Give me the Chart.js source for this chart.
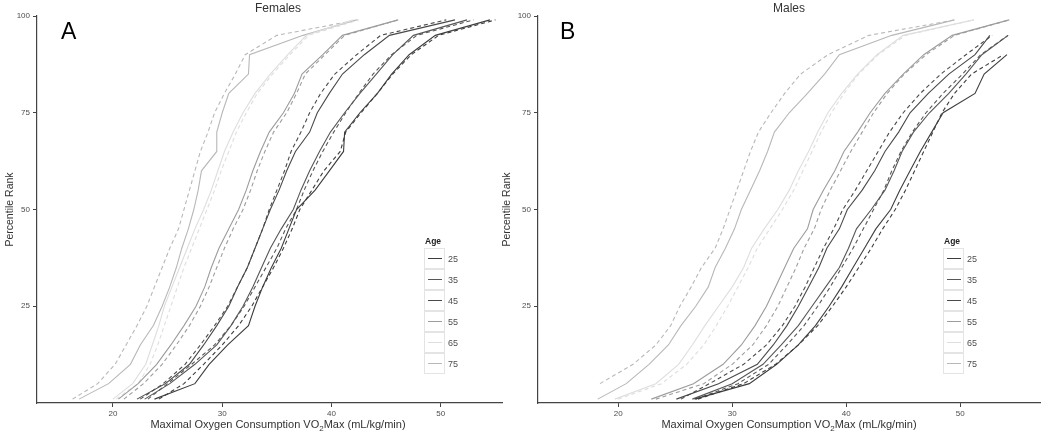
<!DOCTYPE html>
<html>
<head>
<meta charset="utf-8">
<script src="https://cdn.jsdelivr.net/npm/chart.js"></script>
<style>
  html, body { margin: 0; padding: 0; background: #fff; }
  #wrap { position: relative; width: 1050px; height: 436px; overflow: hidden; background: #fff;
          font-family: "Liberation Sans", Arial, sans-serif; }
  canvas { position: absolute; top: 0; }
  #chartA { left: 0; }
  #chartB { left: 497px; }
  .legend { position: absolute; top: 235px; }
  .legend .ltitle { font-size: 8.5px; font-weight: bold; color: #222; height: 13px; line-height: 12px; padding-left: 1px; }
  .legend .row { height: 21px; display: flex; align-items: center; }
  .legend .key { width: 21px; height: 21px; box-sizing: border-box; border: 1px solid #e4e4e4;
                 display: flex; align-items: center; justify-content: center; }
  .legend .key i { display: block; width: 14px; height: 1.5px; }
  .legend .lab { font-size: 9px; color: #4d4d4d; margin-left: 3px; }
</style>
</head>
<body>
<div id="wrap">
  <canvas id="chartA" width="525" height="436"></canvas>
  <canvas id="chartB" width="553" height="436"></canvas>
</div>
<script>
// percentile rank shared by every curve
const percentiles = [1, 5, 10, 15, 20, 25, 30, 35, 40, 45, 50, 55, 60, 65, 70, 75, 80, 85, 90, 95, 99];
const ages = [25, 35, 45, 55, 65, 75];
const xTicks = [20, 30, 40, 50];
const yTicks = [25, 50, 75, 100];

// females - VO2max at each percentile (solid and dashed curve per age)
const female25 = [23.8, 27.5, 28.8, 30.5, 32.4, 33.0, 33.7, 34.5, 35.4, 36.1, 36.8, 38.5, 39.8, 41.1, 41.2, 42.6, 44.2, 45.5, 47.1, 49.5, 54.5];
const female25dash = [24.2, 26.5, 28.3, 30.0, 31.5, 32.7, 33.7, 34.7, 35.6, 36.4, 37.1, 38.2, 39.3, 40.8, 41.3, 42.7, 44.2, 45.6, 47.3, 49.8, 55.0];
const female35 = [22.9, 25.2, 27.5, 29.5, 30.8, 31.9, 32.8, 33.6, 34.4, 35.4, 36.5, 37.2, 38.0, 38.9, 39.9, 41.2, 42.6, 44.1, 45.6, 47.5, 52.4];
const female35dash = [23.2, 25.0, 27.2, 29.3, 30.8, 32.0, 33.0, 34.0, 35.0, 35.8, 36.8, 37.5, 38.3, 39.2, 40.2, 41.3, 42.5, 43.8, 45.5, 47.8, 53.0];
const female45 = [22.2, 24.8, 27.0, 28.3, 29.5, 30.6, 31.4, 32.3, 33.0, 33.7, 34.4, 35.2, 35.9, 36.7, 38.0, 38.7, 39.8, 41.0, 43.0, 45.3, 51.3];
const female45dash = [22.5, 24.6, 26.6, 28.0, 29.3, 30.5, 31.4, 32.3, 33.0, 33.7, 34.3, 35.0, 35.7, 36.3, 37.2, 38.0, 39.0, 40.3, 42.3, 44.5, 50.5];
const female55 = [20.5, 22.3, 24.0, 25.3, 26.5, 27.6, 28.4, 29.0, 29.7, 30.6, 31.5, 32.2, 32.8, 33.5, 34.3, 35.6, 36.6, 37.3, 39.2, 41.0, 46.1];
const female55dash = [21.0, 22.8, 24.5, 25.8, 27.0, 28.0, 28.8, 29.5, 30.2, 31.0, 31.9, 32.6, 33.2, 33.9, 34.7, 35.9, 36.8, 37.6, 39.4, 41.2, 46.1];
const female65 = [20.0, 21.8, 23.0, 23.6, 24.2, 24.7, 25.4, 26.1, 26.8, 27.5, 28.3, 29.0, 29.6, 30.2, 31.0, 31.9, 33.0, 34.4, 36.0, 37.7, 42.0];
const female65dash = [20.3, 22.3, 23.4, 24.1, 24.7, 25.3, 25.9, 26.5, 27.2, 27.9, 28.6, 29.3, 29.9, 30.6, 31.3, 32.2, 33.2, 34.6, 36.2, 37.9, 42.5];
const female75 = [16.9, 19.6, 21.6, 22.5, 23.7, 24.5, 25.2, 25.8, 26.3, 26.9, 27.4, 27.8, 28.1, 29.5, 29.5, 30.0, 30.6, 32.4, 32.5, 37.4, 42.3];
const female75dash = [16.3, 18.6, 20.2, 21.2, 22.2, 23.1, 23.8, 24.5, 25.2, 26.0, 26.5, 27.0, 27.5, 28.0, 28.7, 29.3, 30.2, 31.2, 32.1, 35.0, 42.4];

// males
const male25 = [26.7, 31.5, 33.9, 35.8, 37.3, 38.5, 39.6, 40.6, 41.6, 42.6, 43.9, 44.7, 45.6, 46.5, 47.5, 48.5, 51.3, 52.1, 54.1, null, null];
const male25dash = [27.0, 31.0, 33.8, 35.8, 37.5, 38.8, 40.0, 41.1, 42.2, 43.2, 44.3, 45.2, 46.0, 46.8, 47.6, 48.4, 49.5, 51.0, 53.8, null, null];
const male35 = [26.5, 30.0, 32.7, 34.3, 35.8, 37.0, 38.2, 39.4, 40.2, 40.9, 42.2, 43.4, 44.2, 44.9, 45.9, 47.3, 49.0, 50.5, 51.9, 54.2, null];
const male35dash = [26.8, 30.5, 33.2, 34.8, 36.3, 37.5, 38.6, 39.6, 40.6, 41.5, 42.4, 43.3, 44.0, 44.8, 45.8, 47.0, 48.5, 50.2, 51.8, 54.2, null];
const male45 = [25.1, 28.8, 32.2, 33.6, 34.8, 35.8, 36.7, 37.6, 38.3, 39.4, 40.1, 41.4, 42.5, 43.4, 44.6, 45.6, 47.2, 49.0, 51.3, 52.6, null];
const male45dash = [25.5, 28.0, 31.0, 33.0, 34.4, 35.5, 36.4, 37.2, 38.0, 38.9, 39.7, 40.8, 41.8, 42.8, 43.8, 45.0, 46.5, 48.3, 50.5, 52.8, null];
const male55 = [22.9, 26.6, 29.2, 30.8, 32.0, 33.0, 33.8, 34.6, 35.4, 36.6, 37.1, 38.0, 39.0, 39.8, 41.0, 42.1, 43.4, 45.0, 46.8, 49.3, 54.3];
const male55dash = [23.3, 27.5, 30.0, 31.8, 33.0, 34.0, 34.8, 35.6, 36.3, 37.2, 37.8, 38.6, 39.5, 40.4, 41.4, 42.4, 43.6, 45.1, 47.0, 49.5, 54.3];
const male65 = [19.7, 23.3, 25.3, 26.5, 27.6, 28.8, 30.0, 31.0, 31.7, 32.8, 34.0, 35.0, 35.8, 36.7, 37.5, 38.4, 39.6, 41.0, 42.7, 45.0, 51.2];
const male65dash = [20.0, 23.8, 26.0, 27.5, 28.6, 29.6, 30.5, 31.4, 32.2, 33.3, 34.4, 35.4, 36.2, 37.0, 37.8, 38.7, 39.8, 41.1, 42.8, 45.2, 51.2];
const male75 = [18.2, 20.7, 22.7, 24.4, 25.5, 26.8, 27.9, 28.5, 29.4, 30.2, 30.8, 31.6, 32.4, 33.1, 33.7, 35.0, 36.6, 38.1, 39.4, 44.0, 49.5];
const male75dash = [null, 18.4, 21.3, 23.3, 24.6, 25.4, 26.4, 27.3, 28.5, 29.2, 29.8, 30.4, 31.0, 31.6, 32.3, 33.4, 34.6, 36.0, 38.4, 42.0, 49.5];

const ageColors = ['#3d3d3d', '#575757', '#4a4a4a', '#9c9c9c', '#dedede', '#b8b8b8'];
const FONT = '"Liberation Sans", Arial, sans-serif';

function toPoints(values) {
    return values.map((v, i) => ({ x: v, y: percentiles[i] })).filter(p => p.x !== null);
}

function makeDatasets(solid, dashed) {
    const sets = [];
    ages.forEach((age, i) => {
        sets.push({
            label: String(age),
            data: toPoints(solid[i]),
            borderColor: ageColors[i],
            borderWidth: 1.1,
            pointRadius: 0,
            showLine: true
        });
        sets.push({
            label: age + ' dashed',
            data: toPoints(dashed[i]),
            borderColor: ageColors[i],
            borderWidth: 1.1,
            borderDash: [4, 3],
            pointRadius: 0,
            showLine: true
        });
    });
    return sets;
}

// panel letter, title on top and x axis title (with the subscript 2)
const panelText = {
    id: 'panelText',
    afterDraw(chart, args, opts) {
        const ctx = chart.ctx;
        ctx.save();
        ctx.textBaseline = 'alphabetic';
        ctx.textAlign = 'left';
        ctx.fillStyle = '#000';
        ctx.font = '23px ' + FONT;
        ctx.fillText(opts.letter, opts.letterX, 39);

        ctx.fillStyle = '#333';
        ctx.font = '12px ' + FONT;
        ctx.textAlign = 'center';
        ctx.fillText(opts.title, opts.centerX, 11.5);

        const big = '11px ' + FONT, small = '8px ' + FONT;
        const a = 'Maximal Oxygen Consumption VO', b = '2', c = 'Max (mL/kg/min)';
        ctx.textAlign = 'left';
        ctx.font = big;
        const wa = ctx.measureText(a).width, wc = ctx.measureText(c).width;
        ctx.font = small;
        const wb = ctx.measureText(b).width;
        let x = opts.centerX - (wa + wb + wc) / 2;
        ctx.font = big; ctx.fillText(a, x, 428); x += wa;
        ctx.font = small; ctx.fillText(b, x, 430.5); x += wb;
        ctx.font = big; ctx.fillText(c, x, 428);
        ctx.restore();
    }
};

function makePanel(id, solid, dashed, p) {
    return new Chart(document.getElementById(id), {
        type: 'scatter',
        data: { datasets: makeDatasets(solid, dashed) },
        options: {
            responsive: false,
            animation: false,
            layout: { padding: { top: 16, right: p.padRight, bottom: 0, left: 0 } },
            plugins: {
                legend: { display: false },
                tooltip: { enabled: false },
                panelText: { letter: p.letter, letterX: p.letterX, title: p.title, centerX: p.centerX }
            },
            scales: {
                x: {
                    type: 'linear',
                    min: p.xMin,
                    max: p.xMax,
                    afterBuildTicks: s => { s.ticks = xTicks.map(v => ({ value: v })); },
                    afterFit: s => { s.height = 33; },
                    border: { color: '#444', width: 1.2 },
                    grid: { drawOnChartArea: false, color: '#444', tickLength: 4 },
                    ticks: { color: '#4d4d4d', font: { family: FONT, size: 8 }, padding: 2, maxRotation: 0 }
                },
                y: {
                    type: 'linear',
                    min: 0,
                    max: 100,
                    afterBuildTicks: s => { s.ticks = yTicks.map(v => ({ value: v })); },
                    afterFit: s => { s.width = p.yWidth; },
                    border: { color: '#444', width: 1.2 },
                    grid: { drawOnChartArea: false, color: '#444', tickLength: 4 },
                    ticks: { color: '#4d4d4d', font: { family: FONT, size: 8 }, padding: 3 },
                    title: { display: true, text: 'Percentile Rank', color: '#333', font: { family: FONT, size: 10.5 }, padding: 4 }
                }
            }
        },
        plugins: [panelText]
    });
}

const femaleSolid = [female25, female35, female45, female55, female65, female75];
const femaleDashed = [female25dash, female35dash, female45dash, female55dash, female65dash, female75dash];
const maleSolid = [male25, male35, male45, male55, male65, male75];
const maleDashed = [male25dash, male35dash, male45dash, male55dash, male65dash, male75dash];

makePanel('chartA', femaleSolid, femaleDashed,
    { letter: 'A', letterX: 61, title: 'Females', centerX: 278, xMin: 13.05, xMax: 55.6, yWidth: 37, padRight: 23 });
makePanel('chartB', maleSolid, maleDashed,
    { letter: 'B', letterX: 63, title: 'Males', centerX: 292, xMin: 12.96, xMax: 57.0, yWidth: 41, padRight: 10 });

// legend boxes like the original
function buildLegend(left) {
    const box = document.createElement('div');
    box.className = 'legend';
    box.style.left = left + 'px';
    let html = '<div class="ltitle">Age</div>';
    ages.forEach((age, i) => {
        html += `<div class="row"><span class="key"><i style="background:${ageColors[i]}"></i></span><span class="lab">${age}</span></div>`;
    });
    box.innerHTML = html;
    document.getElementById('wrap').appendChild(box);
}
buildLegend(424);
buildLegend(943);
</script>
</body>
</html>
